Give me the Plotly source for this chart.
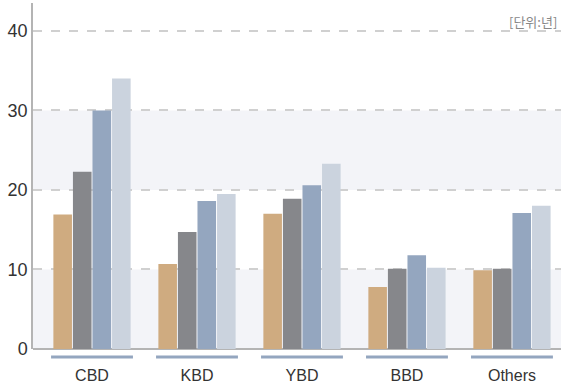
import plotly.graph_objects as go

categories = ["CBD", "KBD", "YBD", "BBD", "Others"]
series_a = [16.9, 10.7, 17.0, 7.8, 9.9]
series_b = [22.3, 14.7, 18.9, 10.1, 10.1]
series_c = [30.0, 18.6, 20.6, 11.8, 17.1]
series_d = [34.0, 19.5, 23.3, 10.2, 18.0]
colors = ["#cfab80", "#86878b", "#94a6bf", "#cbd3de"]
y_ticks = [0, 10, 20, 30, 40]
unit_label = "[단위:년]"

fig = go.Figure()
for vals, col in zip([series_a, series_b, series_c, series_d], colors):
    fig.add_trace(go.Bar(x=categories, y=vals, marker=dict(color=col, line=dict(width=0)),
                         showlegend=False, hoverinfo="skip"))

shapes = []
# alternating background bands
for y0, y1 in [(0, 10), (20, 30)]:
    shapes.append(dict(type="rect", xref="paper", yref="y", x0=0, x1=1, y0=y0, y1=y1,
                       fillcolor="#f3f4f8", line=dict(width=0), layer="below"))
# underline under each category
for i in range(len(categories)):
    shapes.append(dict(type="line", xref="x", yref="paper", x0=i - 0.39, x1=i + 0.39,
                       y0=-0.023, y1=-0.023, line=dict(color="#94a6bf", width=3)))

fig.update_layout(
    width=561, height=384,
    margin=dict(l=33, r=0, t=3, b=35),
    paper_bgcolor="white", plot_bgcolor="white",
    barmode="group", bargap=0.255, bargroupgap=0.05,
    shapes=shapes,
    font=dict(family="Liberation Sans, Arial, sans-serif", color="#333333"),
    xaxis=dict(range=[-0.562, 4.467], showgrid=False, showline=False, zeroline=False,
               automargin=False,
               ticks="outside", ticklen=12, tickcolor="rgba(0,0,0,0)",
               tickfont=dict(size=16, color="#333333")),
    yaxis=dict(range=[0, 43.5], tickvals=y_ticks, showgrid=True, gridcolor="#d0d0d0",
               griddash="dash", gridwidth=1.5, zeroline=True, zerolinecolor="#b4b4b4",
               zerolinewidth=1.5, showline=True, linecolor="#b4b4b4", linewidth=1.5,
               automargin=False,
               ticks="", tickfont=dict(size=18, color="#333333")),
    annotations=[dict(text=unit_label, xref="paper", yref="paper", x=0.997, y=0.98,
                      xanchor="right", yanchor="top", showarrow=False,
                      font=dict(size=13, color="#888888",
                                family="Noto Sans CJK KR, sans-serif"))],
)

fig.write_html("out.html")
